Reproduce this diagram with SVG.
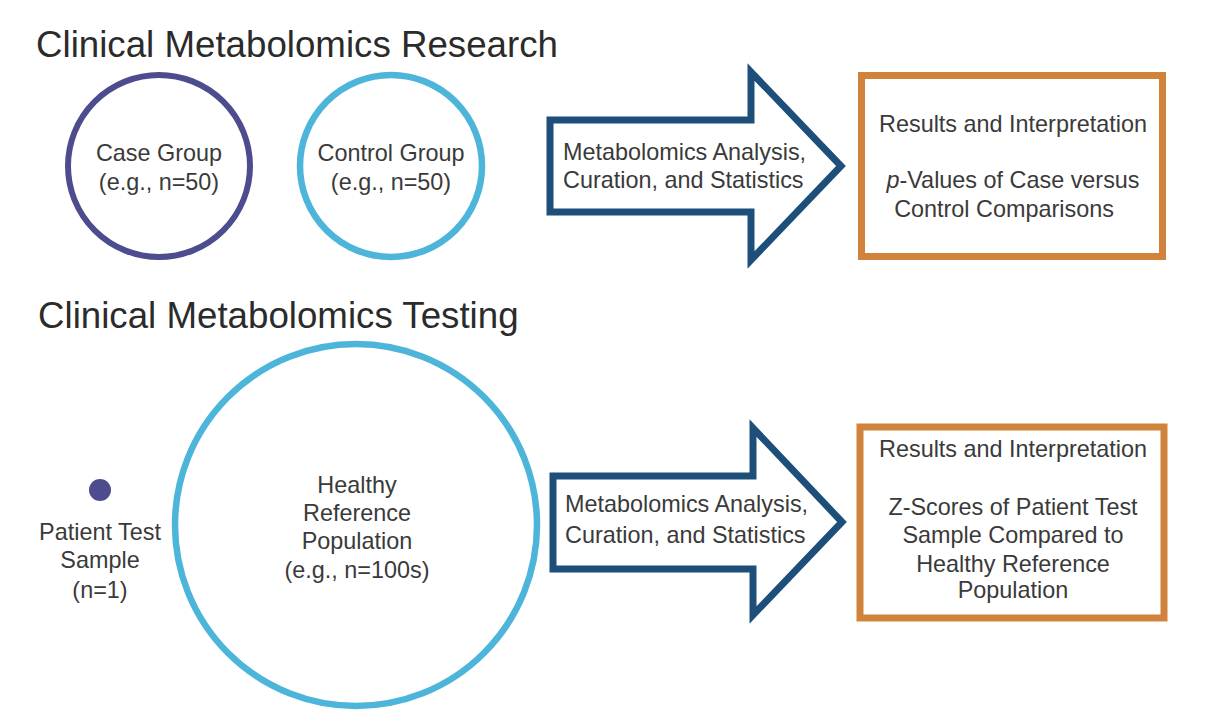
<svg xmlns="http://www.w3.org/2000/svg" width="1226" height="713" viewBox="0 0 1226 713">
<style>
.title{font-family:"Liberation Sans",Arial,Helvetica,sans-serif;font-size:36.7px;fill:#2b2b2b}
.t{font-family:"Liberation Sans",Arial,Helvetica,sans-serif;font-size:23.4px;fill:#3a3a3a}
.c{text-anchor:middle}
.case{fill:#fff;stroke:#4c4c8e;stroke-width:6}
.ctrl{fill:#fff;stroke:#4db5da;stroke-width:6.5}
.arrow{fill:#fff;stroke:#1e4f7a;stroke-width:7;stroke-linejoin:miter}
.box{fill:#fff;stroke:#d1833c;stroke-width:7}
</style>
<rect width="1226" height="713" fill="#fff"/>
<g id="title-research"><text class="title" x="36" y="57">Clinical Metabolomics Research</text></g>
<g id="title-testing"><text class="title" x="38" y="328">Clinical Metabolomics Testing</text></g>
<g id="case-group">
<circle class="case" cx="159" cy="166" r="91"/>
<text class="t c" x="159" y="161">Case Group</text>
<text class="t c" x="159" y="190">(e.g., n=50)</text>
</g>
<g id="control-group">
<circle class="ctrl" cx="391" cy="166" r="91"/>
<text class="t c" x="391" y="161">Control Group</text>
<text class="t c" x="391" y="190">(e.g., n=50)</text>
</g>
<g id="patient-sample">
<circle cx="100" cy="490" r="11" fill="#4c4c8e"/>
<text class="t c" x="100" y="540">Patient Test</text>
<text class="t c" x="100" y="568">Sample</text>
<text class="t c" x="100" y="598">(n=1)</text>
</g>
<g id="healthy-reference">
<circle class="ctrl" cx="356" cy="525" r="181"/>
<text class="t c" x="357" y="493">Healthy</text>
<text class="t c" x="357" y="521">Reference</text>
<text class="t c" x="357" y="549">Population</text>
<text class="t c" x="357" y="578">(e.g., n=100s)</text>
</g>
<g id="connectors">
<g id="arrow-research">
<polygon class="arrow" points="550,120 751,120 751,72 841,166 751,260 751,212 550,212"/>
<text class="t" x="563" y="160">Metabolomics Analysis,</text>
<text class="t" x="563" y="188">Curation, and Statistics</text>
</g>
<g id="arrow-testing">
<polygon class="arrow" points="553,476 753,476 753,428 842,522 753,615 753,569 553,569"/>
<text class="t" x="565" y="512">Metabolomics Analysis,</text>
<text class="t" x="565" y="543">Curation, and Statistics</text>
</g>
</g>
<g id="results-research">
<rect class="box" x="861.5" y="75.5" width="301" height="181"/>
<text class="t c" x="1013" y="132">Results and Interpretation</text>
<text class="t c" x="1013" y="188"><tspan font-style="italic">p</tspan>-Values of Case versus</text>
<text class="t c" x="1004" y="217">Control Comparisons</text>
</g>
<g id="results-testing">
<rect class="box" x="860" y="427" width="304" height="191"/>
<text class="t c" x="1013" y="457">Results and Interpretation</text>
<text class="t c" x="1013" y="515">Z-Scores of Patient Test</text>
<text class="t c" x="1013" y="543">Sample Compared to</text>
<text class="t c" x="1013" y="572">Healthy Reference</text>
<text class="t c" x="1013" y="598">Population</text>
</g>
</svg>
